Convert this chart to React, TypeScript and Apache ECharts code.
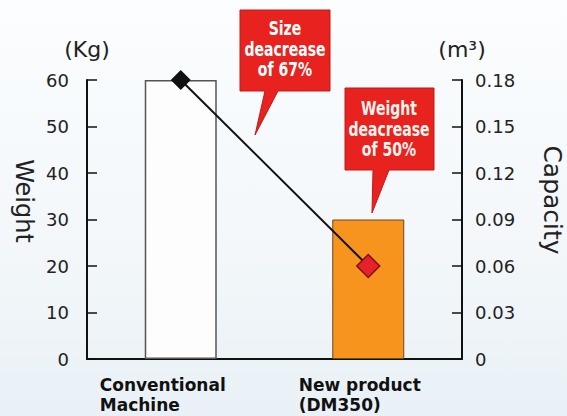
import React, { useEffect, useRef } from "react";
import * as echarts from "echarts";

const categories = ["Conventional\nMachine", "New product\n(DM350)"];
const weights = [60, 30];
const capacities = [0.18, 0.06];
const weightAxis = { min: 0, max: 60, interval: 10, name: "(Kg)", title: "Weight" };
const capacityAxis = { min: 0, max: 0.18, interval: 0.03, name: "(m³)", title: "Capacity" };
const callout1Lines = ["Size", "deacrease", "of 67%"];
const callout2Lines = ["Weight", "deacrease", "of 50%"];

const FONT = '"DejaVu Sans", sans-serif';

export default function App() {
  const ref = useRef<HTMLDivElement>(null);
  useEffect(() => {
    if (!ref.current) return;
    const chart = echarts.init(ref.current, null, { renderer: "svg" });
    const axisCommon = {
      type: "value" as const,
      splitLine: { show: false },
      axisLine: { show: true, lineStyle: { color: "#111", width: 2 } },
      axisTick: { show: true, inside: true, length: 10, lineStyle: { color: "#111", width: 1.5 } },
      nameLocation: "end" as const,
      nameGap: 20,
      nameTextStyle: { fontFamily: FONT, fontSize: 22, color: "#222" },
    };
    const calloutText = (lines: string[], x: number, y: number, fill: string) => ({
      type: "text",
      z: 11,
      x,
      y,
      scaleX: 0.74,
      style: {
        text: lines.join("\n"),
        fontFamily: FONT,
        fontWeight: "bold",
        fontSize: 19,
        lineHeight: 20.5,
        fill,
        align: "center",
        verticalAlign: "middle",
      },
    });
    chart.setOption({
      animation: false,
      grid: { left: 87, right: 105, top: 80, bottom: 57 },
      xAxis: {
        type: "category",
        data: categories.map((c, i) => ({
          value: c,
          textStyle: { padding: i === 0 ? [0, 36, 0, 0] : [0, 17, 0, 0] },
        })),
        axisLine: { lineStyle: { color: "#111", width: 2 } },
        axisTick: { show: false },
        axisLabel: {
          interval: 0,
          margin: 16,
          formatter: (v: string) => v.split("\n").map((s) => `{a|${s}}`).join("\n"),
          rich: {
            a: { align: "left", fontFamily: FONT, fontWeight: "bold", fontSize: 17, lineHeight: 20, color: "#111" },
          },
        },
      },
      yAxis: [
        {
          ...axisCommon,
          position: "left",
          min: weightAxis.min,
          max: weightAxis.max,
          interval: weightAxis.interval,
          name: weightAxis.name,
          axisLabel: { margin: 18, fontFamily: FONT, fontSize: 18, color: "#222" },
        },
        {
          ...axisCommon,
          position: "right",
          min: capacityAxis.min,
          max: capacityAxis.max,
          interval: capacityAxis.interval,
          name: capacityAxis.name,
          axisLabel: {
            margin: 13,
            fontFamily: FONT,
            fontSize: 18,
            color: "#222",
            formatter: (v: number) => (v === 0 ? "0" : v.toFixed(2)),
          },
        },
      ],
      series: [
        {
          type: "bar",
          yAxisIndex: 0,
          barWidth: 72,
          data: weights.map((w, i) => ({
            value: w,
            itemStyle:
              i === 0
                ? { color: "#fdfdfd", borderColor: "#555", borderWidth: 1.5 }
                : { color: "#f7941e", borderColor: "#6b4a1e", borderWidth: 1 },
          })),
        },
        {
          type: "line",
          yAxisIndex: 1,
          symbol: "diamond",
          z: 4,
          lineStyle: { color: "#111", width: 2 },
          data: capacities.map((c, i) => ({
            value: c,
            symbolSize: i === 0 ? 20 : 23,
            itemStyle:
              i === 0
                ? { color: "#111", borderColor: "#111", borderWidth: 0 }
                : { color: "#e8202a", borderColor: "#7a1414", borderWidth: 1.5 },
          })),
        },
      ],
      graphic: [
        {
          type: "polygon",
          z: 10,
          shape: { points: [[240, 10], [330, 10], [330, 91], [278, 91], [255, 135], [265, 91], [240, 91]] },
          style: { fill: "#e8221e", stroke: "#c21a16", lineWidth: 1 },
        },
        calloutText(callout1Lines, 285, 49, "#ffffff"),
        {
          type: "polygon",
          z: 10,
          shape: { points: [[345, 88], [434, 88], [434, 170], [389, 170], [372, 213], [373, 170], [345, 170]] },
          style: { fill: "#e8221e", stroke: "#c21a16", lineWidth: 1 },
        },
        calloutText(callout2Lines, 389, 129, "#fff4f0"),
        {
          type: "text",
          x: 24,
          y: 201,
          rotation: -Math.PI / 2,
          style: {
            text: weightAxis.title,
            fontFamily: FONT,
            fontSize: 24,
            fill: "#222",
            align: "center",
            verticalAlign: "middle",
          },
        },
        {
          type: "text",
          x: 552,
          y: 200,
          rotation: -Math.PI / 2,
          style: {
            text: capacityAxis.title,
            fontFamily: FONT,
            fontSize: 25,
            fill: "#222",
            align: "center",
            verticalAlign: "middle",
          },
        },
      ],
    });
    return () => chart.dispose();
  }, []);
  return (
    <div
      ref={ref}
      style={{
        position: "absolute",
        left: 0,
        top: 0,
        width: 567,
        height: 416,
        background: "linear-gradient(to bottom, #fbfdfe 0%, #f3f7fa 60%, #e9f1f6 100%)",
      }}
    />
  );
}
